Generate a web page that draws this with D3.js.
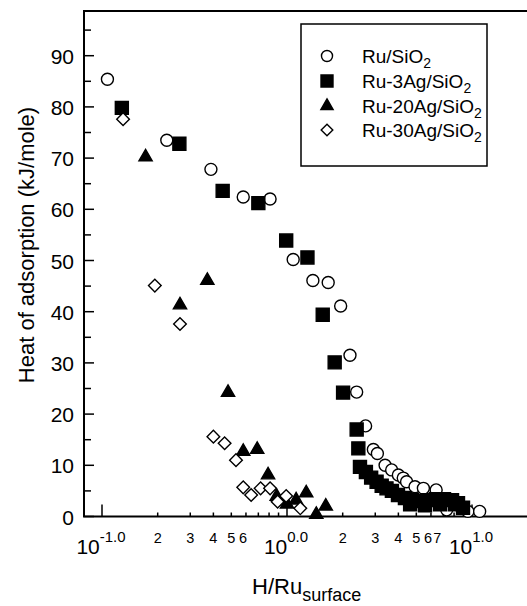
<!DOCTYPE html>
<html>
<head>
<meta charset="utf-8">
<script src="https://cdn.jsdelivr.net/npm/d3@7"></script>
<style>
  body { margin: 0; background: #fff; }
  text { font-family: "Liberation Sans", Arial, Helvetica, sans-serif; fill: #000; }
</style>
</head>
<body>
<div id="chart"></div>
<script>
// series values (x = H/Ru surface, y = heat of adsorption)
const ruX = [0.107, 0.224, 0.388, 0.58, 0.81, 1.08, 1.38, 1.67, 1.95, 2.19, 2.38, 2.66, 2.93, 3.08, 3.39, 3.68, 4.0, 4.25, 4.43, 4.92, 5.46, 6.4, 7.3, 9.5, 11.0];
const ruY = [85.4, 73.5, 67.8, 62.4, 62.0, 50.2, 46.1, 45.7, 41.1, 31.5, 24.3, 17.7, 13.1, 12.3, 10.0, 9.1, 8.1, 7.5, 6.8, 5.8, 5.5, 5.2, 1.3, 1.0, 1.0];

const ru3X = [0.128, 0.262, 0.449, 0.70, 0.99, 1.29, 1.56, 1.81, 2.01, 2.38, 2.43, 2.48, 2.67, 2.85, 3.05, 3.25, 3.45, 3.69, 3.98, 4.34, 4.63, 4.74, 5.23, 5.57, 5.78, 6.39, 6.72, 7.06, 7.80, 8.09, 8.40, 8.94];
const ru3Y = [79.8, 72.8, 63.6, 61.2, 53.9, 50.6, 39.4, 30.1, 24.2, 17.0, 13.3, 9.7, 8.7, 7.6, 6.8, 6.0, 5.5, 5.0, 4.2, 3.6, 2.4, 3.2, 3.0, 2.2, 3.2, 3.4, 2.4, 3.4, 3.2, 2.4, 2.6, 1.7];

const ru20X = [0.172, 0.264, 0.371, 0.48, 0.58, 0.69, 0.79, 0.88, 1.0, 1.12, 1.27, 1.44, 1.62];
const ru20Y = [70.2, 41.3, 46.1, 24.2, 12.7, 13.1, 8.1, 3.9, 2.4, 3.2, 4.6, 0.4, 2.0];

const ru30X = [0.130, 0.193, 0.264, 0.40, 0.46, 0.53, 0.58, 0.64, 0.72, 0.81, 0.89, 0.99, 1.18];
const ru30Y = [77.6, 45.1, 37.6, 15.6, 14.3, 11.0, 5.7, 4.2, 5.5, 5.5, 2.9, 4.0, 1.6];

const seriesNames = ["Ru/SiO", "Ru-3Ag/SiO", "Ru-20Ag/SiO", "Ru-30Ag/SiO"];

// tick labels
const yTicks = [0, 10, 20, 30, 40, 50, 60, 70, 80, 90];
const yMinorTicks = [5, 15, 25, 35, 45, 55, 65, 75, 85, 95];
const xMajor = [0.1, 1, 10];
const xMajorExp = ["-1.0", "0.0", "1.0"];
const xMinorLabels = [0.2, 0.3, 0.4, 0.5, 0.6, 2, 3, 4, 5, 6, 7];
const xMinorText = ["2", "3", "4", "5", "6", "2", "3", "4", "5", "6", "7"];

const W = 527, H = 606;
const plotLeft = 84, plotTop = 11, plotBottom = 516.5;

const svg = d3.select("#chart").append("svg")
  .attr("width", W)
  .attr("height", H);

const x = d3.scaleLog().domain([0.1, 10]).range([102, 472]);
const y = d3.scaleLinear().domain([0, 90]).range([plotBottom, 55.7]);

// frame: left axis, top line, bottom axis
svg.append("line").attr("x1", plotLeft).attr("x2", plotLeft).attr("y1", plotTop).attr("y2", plotBottom)
  .attr("stroke", "#000").attr("stroke-width", 2);
svg.append("line").attr("x1", plotLeft - 1).attr("x2", W).attr("y1", plotTop).attr("y2", plotTop)
  .attr("stroke", "#000").attr("stroke-width", 2);
svg.append("line").attr("x1", plotLeft - 1).attr("x2", W).attr("y1", plotBottom).attr("y2", plotBottom)
  .attr("stroke", "#000").attr("stroke-width", 2);

// y ticks (pointing inside)
svg.selectAll(".ytick").data(yTicks).join("line")
  .attr("x1", plotLeft).attr("x2", plotLeft + 10)
  .attr("y1", d => y(d)).attr("y2", d => y(d))
  .attr("stroke", "#000").attr("stroke-width", 1.5);
svg.selectAll(".yminor").data(yMinorTicks).join("line")
  .attr("x1", plotLeft).attr("x2", plotLeft + 7)
  .attr("y1", d => y(d)).attr("y2", d => y(d))
  .attr("stroke", "#000").attr("stroke-width", 1.5);
svg.selectAll(".ylab").data(yTicks).join("text")
  .attr("x", 74).attr("y", d => y(d) + 8)
  .attr("text-anchor", "end")
  .style("font-size", "21px")
  .text(d => d);

// x ticks (log, pointing up)
const xMinorTicks = [];
[0.1, 1].forEach(dec => { for (let k = 2; k <= 9; k++) xMinorTicks.push(dec * k); });
svg.selectAll(".xminor").data(xMinorTicks).join("line")
  .attr("x1", d => x(d)).attr("x2", d => x(d))
  .attr("y1", plotBottom).attr("y2", plotBottom - 4)
  .attr("stroke", "#000").attr("stroke-width", 1.5);
svg.selectAll(".xmajor").data(xMajor).join("line")
  .attr("x1", d => x(d)).attr("x2", d => x(d))
  .attr("y1", plotBottom).attr("y2", plotBottom - 12)
  .attr("stroke", "#000").attr("stroke-width", 1.5);

svg.selectAll(".xminlab").data(xMinorLabels).join("text")
  .attr("x", (d, i) => x(d) - (xMinorText[i] === "6" ? 3 : xMinorText[i] === "7" ? 6 : 0))
  .attr("y", 543)
  .attr("text-anchor", "middle")
  .style("font-size", "14.5px")
  .text((d, i) => xMinorText[i]);

const majLab = svg.selectAll(".xmajlab").data(xMajor).join("text")
  .attr("x", d => x(d) - 1)
  .attr("y", 554)
  .attr("text-anchor", "middle");
majLab.append("tspan").style("font-size", "21px").text("10");
majLab.append("tspan").style("font-size", "15px").attr("dy", -12).text((d, i) => xMajorExp[i]);

// axis titles
svg.append("text")
  .attr("transform", `translate(34, 245) rotate(-90)`)
  .attr("text-anchor", "middle")
  .style("font-size", "22px")
  .text("Heat of adsorption (kJ/mole)");

const xt = svg.append("text").attr("x", 252).attr("y", 594);
xt.append("tspan").style("font-size", "22px").text("H/Ru");
xt.append("tspan").style("font-size", "18px").attr("dy", 7).text("surface");

// markers
const markers = [
  {type: d3.symbolCircle, size: 113, fill: "#fff", rot: 0},
  {type: d3.symbolSquare, size: 169, fill: "#000", rot: 0},
  {type: d3.symbolTriangle, size: 76, fill: "#000", rot: 0},
  {type: d3.symbolSquare, size: 80, fill: "#fff", rot: 45}
];
const allX = [ruX, ru3X, ru20X, ru30X];
const allY = [ruY, ru3Y, ru20Y, ru30Y];

allX.forEach((xs, s) => {
  const m = markers[s];
  const pts = xs.map((v, i) => ({x: v, y: allY[s][i]}));
  svg.append("g").selectAll("path").data(pts).join("path")
    .attr("transform", d => `translate(${x(d.x)},${y(d.y)}) rotate(${m.rot})`)
    .attr("d", d3.symbol().type(m.type).size(m.size))
    .attr("fill", m.fill)
    .attr("stroke", "#000")
    .attr("stroke-width", 1.4);
});

// legend
const lg = svg.append("g");
lg.append("rect").attr("x", 301).attr("y", 24).attr("width", 186).attr("height", 142)
  .attr("fill", "#fff").attr("stroke", "#000").attr("stroke-width", 1.5);
const rowY = [56, 81, 106, 130];
seriesNames.forEach((name, i) => {
  const m = markers[i];
  lg.append("path")
    .attr("transform", `translate(327,${rowY[i]}) rotate(${m.rot})`)
    .attr("d", d3.symbol().type(m.type).size(m.size * 0.85))
    .attr("fill", m.fill).attr("stroke", "#000").attr("stroke-width", 1.4);
  const t = lg.append("text").attr("x", 362).attr("y", rowY[i] + 7);
  t.append("tspan").style("font-size", "19px").text(name);
  t.append("tspan").style("font-size", "14px").attr("dy", 5).text("2");
});
</script>
</body>
</html>
